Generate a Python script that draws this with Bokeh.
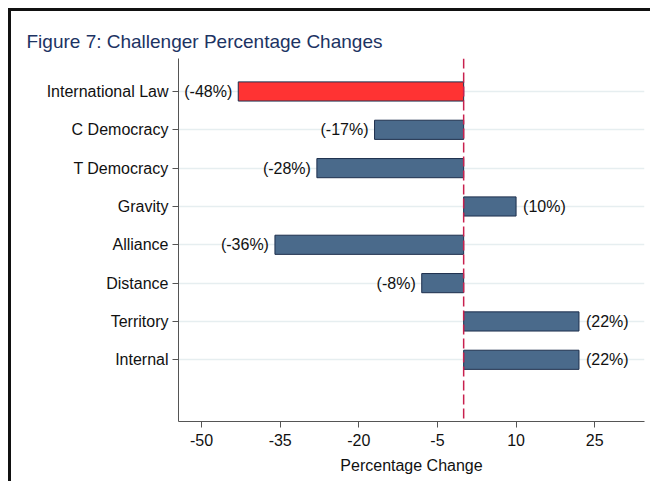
from bokeh.plotting import figure
from bokeh.models import ColumnDataSource, FixedTicker, Span, LabelSet
from bokeh.layouts import column
from bokeh.embed import file_html
from bokeh.resources import INLINE
from bokeh.core.properties import value

categories = ["International Law", "C Democracy", "T Democracy", "Gravity",
              "Alliance", "Distance", "Territory", "Internal"]
bar_values = [-43, -17, -28, 10, -36, -8, 22, 22]
bar_labels = ["(-48%)", "(-17%)", "(-28%)", "(10%)", "(-36%)", "(-8%)", "(22%)", "(22%)"]
x_ticks = [-50, -35, -20, -5, 10, 25]
x_tick_labels = ["-50", "-35", "-20", "-5", "10", "25"]

FONT = "Liberation Sans"
BLUE = "#4a6a8b"
RED = "#ff3333"

n = len(categories)
ypos = [n - i for i in range(n)]
colors = [RED if i == 0 else BLUE for i in range(n)]
lab_align = ["right" if v < 0 else "left" for v in bar_values]
lab_off = [-6 if v < 0 else 7 for v in bar_values]

src = ColumnDataSource(dict(y=ypos, v=bar_values, c=colors, lab=bar_labels,
                            la=lab_align, lo=lab_off, zero=[0]*n))

p = figure(frame_width=466, frame_height=363, output_backend="svg", toolbar_location=None,
           x_range=(-54.4, 34.5), y_range=(-0.61, 8.86),
           min_border_left=167, min_border_right=6, min_border_top=47, min_border_bottom=60)
p.outline_line_color = None
p.background_fill_color = "white"
p.border_fill_color = "white"

p.title.text = "Figure 7: Challenger Percentage Changes"
p.title.align = "left"
p.title.offset = -152
p.title.standoff = 13
p.title.text_font = FONT
p.title.text_font_size = "19px"
p.title.text_font_style = "normal"
p.title.text_color = "#1c3363"

# grid
p.xgrid.visible = False
p.ygrid.ticker = FixedTicker(ticks=ypos)
p.ygrid.grid_line_color = "#e6eef0"
p.ygrid.grid_line_width = 1.5

p.hbar(y="y", left="zero", right="v", height=0.5, fill_color="c",
       line_color="#1d2f4d", line_width=1, source=src)

p.add_layout(Span(location=0, dimension="height", line_color="#c8204e",
                  line_width=1.5, line_dash="10 4"))

labels = LabelSet(x="v", y="y", text="lab", x_offset="lo", text_align="la",
                  text_baseline="middle", text_font=value(FONT), text_font_size="16px",
                  text_color="#111111", source=src)
p.add_layout(labels)

# axes
p.xaxis.ticker = FixedTicker(ticks=x_ticks)
p.xaxis.major_label_overrides = {t: s for t, s in zip(x_ticks, x_tick_labels)}
p.xaxis.axis_label = "Percentage Change"
p.yaxis.ticker = FixedTicker(ticks=ypos)
p.yaxis.major_label_overrides = {y: c for y, c in zip(ypos, categories)}
for ax in (p.xaxis, p.yaxis):
    ax.axis_line_color = "#555555"
    ax.major_tick_line_color = "#555555"
    ax.minor_tick_line_color = None
    ax.major_tick_out = 6
    ax.major_tick_in = 0
    ax.major_label_text_font = FONT
    ax.major_label_text_font_size = "16px"
    ax.major_label_text_color = "#111111"
    ax.axis_label_text_font = FONT
    ax.axis_label_text_font_size = "16px"
    ax.axis_label_text_font_style = "normal"
    ax.axis_label_text_color = "#111111"
p.xaxis.major_label_standoff = 6
p.xaxis.axis_label_standoff = 8
p.yaxis.major_label_standoff = 4

layout = column(p)
layout.styles = {"border-top": "3px solid #111111", "border-left": "3px solid #111111",
                 "margin-top": "8px", "margin-left": "8px"}

open("out.html", "w").write(file_html(layout, INLINE))
